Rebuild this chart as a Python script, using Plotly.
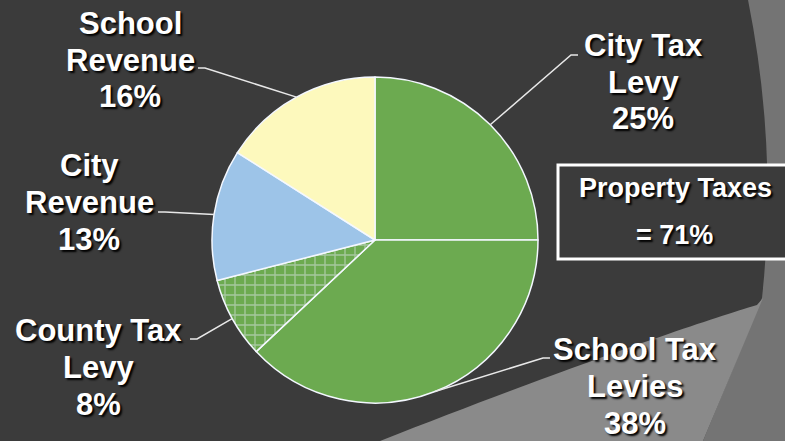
import math
import plotly.graph_objects as go

# ── Canvas ─────────────────────────────────────────────────────────────────────
W, H = 785, 441

# ── Data ───────────────────────────────────────────────────────────────────────
SLICE_NAMES = ["City Tax<br>Levy", "School Tax<br>Levies", "County Tax<br>Levy",
               "City<br>Revenue", "School<br>Revenue"]
SLICE_PCT = [25, 38, 8, 13, 16]
PROPERTY_TAX_SLICES = ["City Tax<br>Levy", "School Tax<br>Levies", "County Tax<br>Levy"]
BOX_TITLE = "Property Taxes"

# ── Styling ────────────────────────────────────────────────────────────────────
GREEN, BLUE, YELLOW = "#6caa50", "#9dc4e8", "#fdf9bd"
SLICE_COLOURS = [GREEN, GREEN, GREEN, BLUE, YELLOW]
SLICE_PATTERNS = ["", "", "+", "", ""]

BG_DARK = "#3b3b3b"
BG_MID = "#747474"
BG_BAND = "#8a8a8a"

FONT = "Liberation Sans, Arial, sans-serif"
SHADOW = "2px 2px 2px #000000"
LABEL_SIZE = 31
LINE_GAP = 37          # px between label lines

# pie geometry in pixels
PIE_CX, PIE_CY, PIE_R = 375, 240, 163

# label block centres and leader-line start points, in pixels
LABEL_XY = [(643, 82), (635, 386), (98, 367), (89, 202), (130, 60)]
LEADER_FROM = [(578, 55), (550, 358), (190, 339), (158, 212), (198, 68)]


def px(x):
    return x / W


def py(y):
    return 1 - y / H


def path(points, close=True):
    s = "M " + " L ".join(f"{px(x):.4f},{py(y):.4f}" for x, y in points)
    return s + (" Z" if close else "")


def curve_path(cmds):
    """cmds: list of (letter, [(x, y), ...]) in pixels."""
    out = []
    for letter, pts in cmds:
        out.append(letter + " " + " ".join(f"{px(x):.4f},{py(y):.4f}" for x, y in pts))
    return " ".join(out)


def text_ann(x, y, text, size):
    return dict(
        x=px(x), y=py(y), xref="paper", yref="paper",
        xanchor="center", yanchor="middle", showarrow=False, align="center",
        text=text,
        font=dict(family=FONT, size=size, color="#ffffff", weight="bold", shadow=SHADOW),
    )


fig = go.Figure()

fig.add_trace(
    go.Pie(
        labels=SLICE_NAMES,
        values=SLICE_PCT,
        sort=False,
        direction="clockwise",
        rotation=0,
        textinfo="none",
        hoverinfo="label+percent",
        marker=dict(
            colors=SLICE_COLOURS,
            line=dict(color="#f4f8ff", width=1.5),
            pattern=dict(
                shape=SLICE_PATTERNS,
                fgcolor="#dfe5ec",
                bgcolor=SLICE_COLOURS,
                size=10,
                solidity=0.25,
                fillmode="overlay",
            ),
        ),
        domain=dict(
            x=[px(PIE_CX - PIE_R), px(PIE_CX + PIE_R)],
            y=[py(PIE_CY + PIE_R), py(PIE_CY - PIE_R)],
        ),
        showlegend=False,
    )
)

# ── Background decoration ─────────────────────────────────────────────────────
shapes = [
    dict(type="path", xref="paper", yref="paper", layer="below",
         path=curve_path([("M", [(748, 0)]), ("Q", [(778, 150), (762, 298)]),
                          ("L", [(703, 441)]), ("L", [(790, 441)]),
                          ("L", [(790, 0)]), ("Z", [])]),
         fillcolor=BG_MID, line=dict(width=0)),
    dict(type="path", xref="paper", yref="paper", layer="below",
         path=curve_path([("M", [(380, 441)]),
                          ("C", [(560, 370), (700, 322), (757, 305)]),
                          ("L", [(763, 298)]), ("L", [(703, 441)]), ("Z", [])]),
         fillcolor=BG_BAND, line=dict(width=0)),
    # Property taxes box
    dict(type="rect", xref="paper", yref="paper", layer="below",
         x0=px(558), x1=px(795), y0=py(259), y1=py(165),
         fillcolor=BG_DARK, line=dict(color="#ffffff", width=3)),
]

# ── Leader lines + labels ─────────────────────────────────────────────────────
annotations = []
total = sum(SLICE_PCT)
cum = 0
for name, pct, (lx, ly), (sx, sy) in zip(SLICE_NAMES, SLICE_PCT, LABEL_XY, LEADER_FROM):
    theta = 2 * math.pi * (cum + pct / 2) / total
    cum += pct
    ex = PIE_CX + PIE_R * math.sin(theta)
    ey = PIE_CY - PIE_R * math.cos(theta)
    step = 7 if ex > sx else -7
    shapes.append(dict(
        type="path", xref="paper", yref="paper", layer="above",
        path=path([(sx, sy), (sx + step, sy), (ex, ey)], close=False),
        line=dict(color="#e8e8e8", width=1.5),
    ))
    lines = name.split("<br>") + [f"{pct}%"]
    for i, line in enumerate(lines):
        y = ly + (i - (len(lines) - 1) / 2) * LINE_GAP
        annotations.append(text_ann(lx, y, line, LABEL_SIZE))

property_total = sum(p for n, p in zip(SLICE_NAMES, SLICE_PCT) if n in PROPERTY_TAX_SLICES)
annotations += [
    text_ann(675, 188, BOX_TITLE, 27),
    text_ann(674, 235, f"= {property_total}%", 27),
]

fig.update_layout(
    width=W, height=H,
    margin=dict(l=0, r=0, t=0, b=0),
    paper_bgcolor=BG_DARK,
    plot_bgcolor=BG_DARK,
    shapes=shapes,
    annotations=annotations,
)

fig.write_html(
    "out.html",
    config={"displayModeBar": False},
    post_script="document.body.style.margin = '0';",
)
